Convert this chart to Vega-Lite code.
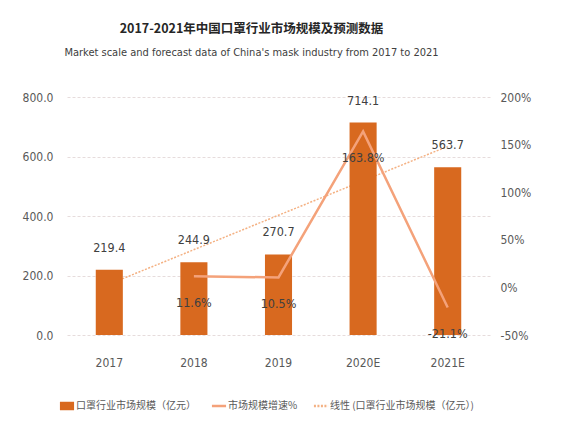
{
  "$schema": "https://vega.github.io/schema/vega-lite/v6.json",
  "autosize": "none",
  "width": 423,
  "height": 238,
  "padding": {"left": 67, "top": 97, "right": 81, "bottom": 106},
  "title": {
    "text": "2017-2021年中国口罩行业市场规模及预测数据",
    "subtitle": "Market scale and forecast data of China's mask industry from 2017 to 2021",
    "anchor": "middle",
    "frame": "group",
    "dx": -27,
    "offset": 33,
    "font": "Noto Sans CJK SC",
    "fontSize": 12.5,
    "fontWeight": "bold",
    "color": "#262626",
    "subtitleFont": "DejaVu Sans Condensed, Noto Sans CJK SC",
    "subtitleFontSize": 11,
    "subtitleColor": "#404040",
    "subtitlePadding": 12
  },
  "datasets": {
    "masks": [
      {"year": "2017", "idx": 1, "size": 219.4, "growth": null},
      {"year": "2018", "idx": 2, "size": 244.9, "growth": 0.116},
      {"year": "2019", "idx": 3, "size": 270.7, "growth": 0.105},
      {"year": "2020E", "idx": 4, "size": 714.1, "growth": 1.638},
      {"year": "2021E", "idx": 5, "size": 563.7, "growth": -0.211}
    ]
  },
  "data": {"name": "masks"},
  "encoding": {
    "x": {
      "field": "year",
      "type": "nominal",
      "sort": null,
      "scale": {
        "domain": ["2017", "2018", "2019", "2020E", "2021E"],
        "paddingInner": 0.68,
        "paddingOuter": 0.34
      },
      "axis": {
        "title": null,
        "labelAngle": 0,
        "domain": false,
        "ticks": false,
        "labelPadding": 22
      }
    }
  },
  "layer": [
    {
      "layer": [
        {
          "transform": [
            {"regression": "size", "on": "idx"},
            {"lookup": "idx", "from": {"data": {"name": "masks"}, "key": "idx", "fields": ["year"]}}
          ],
          "mark": {"type": "line", "strokeDash": [2, 1.5], "strokeWidth": 1.5},
          "encoding": {
            "y": {
              "field": "size",
              "type": "quantitative",
              "scale": {"domain": [0, 800], "range": [238, 0], "padding": 0},
              "axis": {
                "title": null,
                "format": ".1f",
                "values": [0, 200, 400, 600, 800],
                "domain": false,
                "ticks": false,
                "labelPadding": 14,
                "grid": true,
                "gridColor": "#e6dcdc",
                "gridDash": [3, 2]
              }
            },
            "color": {
              "datum": "线性 (口罩行业市场规模（亿元）)",
              "type": "nominal",
              "scale": {
                "domain": ["口罩行业市场规模（亿元）", "市场规模增速%", "线性 (口罩行业市场规模（亿元）)"],
                "range": ["#D8691F", "#F4A27A", "#F4B183"]
              },
              "legend": {
                "orient": "none",
                "legendX": -5,
                "legendY": 304,
                "direction": "horizontal",
                "title": null,
                "labelFont": "Noto Sans CJK SC",
                "labelFontSize": 10,
                "labelColor": "#595959",
                "symbolSize": 200,
                "columnPadding": 10,
                "labelLimit": 300,
                "encode": {
                  "symbols": {
                    "update": {
                      "shape": {"signal": "datum.value === '口罩行业市场规模（亿元）' ? 'M-1,-0.6H1V0.6H-1Z' : 'stroke'"},
                      "fill": {"signal": "datum.value === '口罩行业市场规模（亿元）' ? '#D8691F' : 'transparent'"},
                      "stroke": {"signal": "datum.value === '口罩行业市场规模（亿元）' ? '#D8691F' : (datum.value === '市场规模增速%' ? '#F4A27A' : '#F4B183')"},
                      "strokeWidth": {"signal": "datum.value === '口罩行业市场规模（亿元）' ? 0 : 2.5"},
                      "strokeDash": {"signal": "datum.value === '线性 (口罩行业市场规模（亿元）)' ? [2, 1.5] : [1, 0]"}
                    }
                  }
                }
              }
            }
          }
        },
        {
          "mark": {"type": "bar"},
          "encoding": {
            "y": {"field": "size", "type": "quantitative"},
            "color": {"datum": "口罩行业市场规模（亿元）", "type": "nominal"}
          }
        },
        {
          "mark": {
            "type": "text",
            "dy": -22,
            "baseline": "middle",
            "font": "DejaVu Sans Condensed, sans-serif",
            "fontSize": 12.5,
            "color": "#404040"
          },
          "encoding": {
            "y": {"field": "size", "type": "quantitative"},
            "text": {"field": "size", "type": "quantitative", "format": ".1f"}
          }
        }
      ]
    },
    {
      "transform": [{"filter": "isValid(datum.growth)"}],
      "layer": [
        {
          "mark": {"type": "line", "strokeWidth": 2.5},
          "encoding": {
            "y": {
              "field": "growth",
              "type": "quantitative",
              "scale": {"domain": [-0.5, 2], "range": [238, 0], "padding": 0, "nice": false, "zero": false},
              "axis": {
                "title": null,
                "orient": "right",
                "format": ".0%",
                "values": [-0.5, 0, 0.5, 1, 1.5, 2],
                "domain": false,
                "ticks": false,
                "grid": false,
                "labelPadding": 10
              }
            },
            "color": {"datum": "市场规模增速%", "type": "nominal"}
          }
        },
        {
          "mark": {
            "type": "text",
            "dy": 27,
            "baseline": "middle",
            "font": "DejaVu Sans Condensed, sans-serif",
            "fontSize": 12.5,
            "color": "#404040"
          },
          "encoding": {
            "y": {"field": "growth", "type": "quantitative"},
            "text": {"field": "growth", "type": "quantitative", "format": ".1%"}
          }
        }
      ]
    }
  ],
  "resolve": {"scale": {"y": "independent"}},
  "config": {
    "background": "white",
    "view": {"stroke": null},
    "axis": {
      "labelFont": "DejaVu Sans Condensed, sans-serif",
      "labelFontSize": 12,
      "labelColor": "#595959"
    },
    "locale": {
      "number": {
        "decimal": ".",
        "thousands": ",",
        "grouping": [3],
        "currency": ["$", ""],
        "minus": "-"
      }
    }
  }
}
